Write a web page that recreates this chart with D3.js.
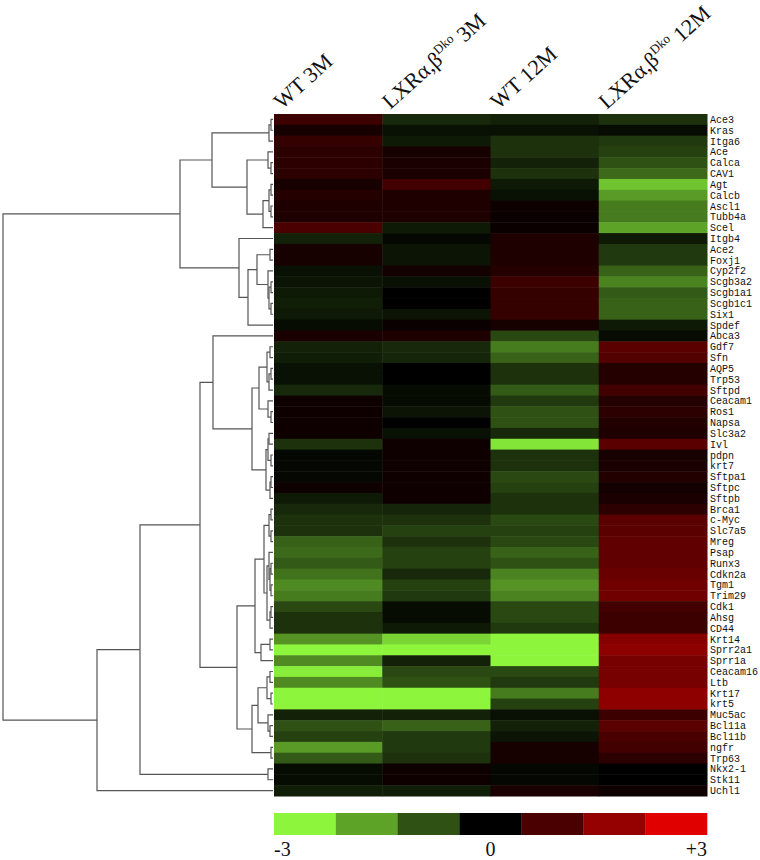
<!DOCTYPE html>
<html>
<head>
<meta charset="utf-8">
<script src="https://cdn.jsdelivr.net/npm/d3@7"></script>
<style>
  html, body { margin: 0; padding: 0; background: #fff; }
  svg { display: block; }
</style>
</head>
<body>
<svg id="chart" width="760" height="860"></svg>
<script>
// column groups
const groups = ["WT 3M", "LXR 3M", "WT 12M", "LXR 12M"];

// genes, top to bottom
const genes = ["Ace3","Kras","Itga6","Ace","Calca","CAV1","Agt","Calcb","Ascl1","Tubb4a",
  "Scel","Itgb4","Ace2","Foxj1","Cyp2f2","Scgb3a2","Scgb1a1","Scgb1c1","Six1","Spdef",
  "Abca3","Gdf7","Sfn","AQP5","Trp53","Sftpd","Ceacam1","Ros1","Napsa","Slc3a2",
  "Ivl","pdpn","krt7","Sftpa1","Sftpc","Sftpb","Brca1","c-Myc","Slc7a5","Mreg",
  "Psap","Runx3","Cdkn2a","Tgm1","Trim29","Cdk1","Ahsg","CD44","Krt14","Sprr2a1",
  "Sprr1a","Ceacam16","Ltb","Krt17","krt5","Muc5ac","Bcl11a","Bcl11b","ngfr","Trp63",
  "Nkx2-1","Stk11","Uchl1"];

// log ratio per column, same order as genes
const wt3m = [0.8,0.3,0.7,0.6,0.6,0.6,0.3,0.5,0.4,0.4,
  1.0,-0.4,0.3,0.3,-0.2,-0.25,-0.3,-0.35,-0.3,-0.15,
  0.35,-0.4,-0.35,-0.2,-0.2,-0.5,0.2,0.2,0.2,0.2,
  -0.6,-0.1,-0.1,-0.1,0.2,-0.3,-0.5,-0.6,-0.6,-1.2,
  -1.3,-1.1,-1.4,-1.7,-1.5,-0.9,-0.6,-0.6,-1.8,-3.0,
  -1.7,-2.9,-1.7,-3.0,-3.0,-0.4,-1.0,-0.8,-1.9,-1.1,
  -0.15,-0.15,-0.35];
const lxr3m = [-0.5,-0.2,-0.3,0.3,0.35,0.35,0.9,0.4,0.4,0.4,
  -0.3,-0.1,-0.25,-0.25,0.25,-0.2,0.0,0.0,-0.25,0.15,
  0.4,-0.5,-0.45,0.0,0.0,-0.15,-0.15,-0.25,0.0,-0.2,
  0.2,0.2,0.2,0.2,0.2,0.2,-0.45,-0.6,-0.8,-0.6,
  -0.8,-0.8,-0.5,-0.8,-0.7,-0.15,-0.15,-0.3,-2.6,-3.0,
  -0.4,-0.9,-1.0,-3.0,-3.0,-0.4,-1.2,-0.7,-0.7,-0.6,
  0.2,0.2,-0.35];
const wt12m = [-0.4,-0.2,-0.6,-0.6,-0.4,-0.6,-0.3,-0.2,0.2,0.15,
  0.15,0.4,0.4,0.4,0.5,0.8,0.7,0.7,0.7,0.3,
  -0.9,-1.5,-1.2,-0.6,-0.6,-1.1,-0.7,-1.0,-1.0,-0.5,
  -2.8,-0.6,-0.6,-0.9,-0.8,-0.6,-0.6,-0.9,-0.8,-0.9,
  -1.2,-1.0,-1.6,-1.8,-1.6,-0.9,-0.9,-0.7,-3.0,-3.0,
  -3.0,-0.9,-0.7,-1.5,-0.8,-0.2,-0.4,-0.25,0.3,0.3,
  -0.1,-0.1,0.35];
const lxr12m = [-0.6,-0.15,-0.7,-0.8,-1.0,-1.3,-2.4,-1.9,-1.5,-1.5,
  -2.0,-0.3,-0.7,-0.7,-1.2,-1.6,-1.1,-1.2,-1.2,-0.3,
  -0.15,1.2,1.1,0.5,0.5,0.9,0.5,0.6,0.45,0.4,
  1.2,0.3,0.35,0.45,0.25,0.35,0.6,1.2,1.2,1.3,
  1.3,1.3,1.4,1.5,1.5,0.9,0.8,0.8,1.8,1.9,
  1.6,1.6,1.6,1.9,1.9,0.8,1.2,1.0,0.9,0.6,
  0.0,0.0,0.2];

// row clustering: [left, right, height]; strings are genes, numbers are earlier merges
const merges = [
  ["Ace3","Kras",2], [0,"Itga6",4], ["Calca","CAV1",2], ["Ace",2,5],
  ["Agt","Calcb",2], ["Ascl1","Tubb4a",2], [4,5,4], [6,"Scel",10],
  [3,7,26], [1,8,61], ["Ace2","Foxj1",3], ["Scgb3a2","Scgb1a1",2],
  ["Scgb1c1","Six1",2], [11,12,4], ["Cyp2f2",13,5], [10,14,16],
  [15,"Spdef",25], ["Itgb4",16,34], [9,17,93],
  ["Gdf7","Sfn",3], ["AQP5","Trp53",2], [20,"Sftpd",4], [19,21,6],
  ["Ros1","Napsa",2], ["Ceacam1",23,5], [22,24,14],
  ["Slc3a2","Ivl",4], ["pdpn","krt7",2], [26,27,5],
  ["Sftpa1","Sftpc",2], [29,"Sftpb",3], [28,30,7],
  [25,31,21], ["Abca3",32,60],
  ["Brca1","c-Myc",2], ["Slc7a5","Mreg",2], [34,35,4],
  ["Runx3","Cdkn2a",2], ["Tgm1","Trim29",2], [37,38,3], ["Psap",39,4],
  ["Cdk1","Ahsg",2], [41,"CD44",3], [40,42,6], [36,43,9],
  ["Krt14","Sprr2a1",3], [45,"Sprr1a",12], [44,46,18],
  ["Ceacam16","Ltb",3], ["Krt17","krt5",2], [48,49,6], ["Bcl11a","Bcl11b",3],
  ["Muc5ac",51,5], [50,52,15], ["ngfr","Trp63",2], [53,54,21],
  [47,55,36], [33,56,73], ["Nkx2-1","Stk11",5], [57,58,133],
  [59,"Uchl1",176], [18,60,270]
];

const legendValues = [-3, -2, -1, 0, 1, 2, 3];
const legendLabels = ["-3", "0", "+3"];

const svg = d3.select("#chart");

const mapLeft = 274, mapRight = 707, mapTop = 114, mapBottom = 796;

const x = d3.scaleBand().domain(groups).range([mapLeft, mapRight]);
const y = d3.scaleBand().domain(genes).range([mapTop, mapBottom]);
const color = d3.scaleLinear().domain([-3, 0, 3])
  .range(["#8cf53c", "#000000", "#e00000"]).clamp(true);

const columns = [wt3m, lxr3m, wt12m, lxr12m];
const cells = [];
groups.forEach((g, j) => {
  genes.forEach((gene, i) => cells.push({ group: g, gene: gene, value: columns[j][i] }));
});

// heatmap cells
svg.append("g")
  .selectAll("rect")
  .data(cells)
  .join("rect")
  .attr("x", d => x(d.group))
  .attr("y", d => y(d.gene))
  .attr("width", x.bandwidth() + 0.5)
  .attr("height", y.bandwidth() + 0.5)
  .attr("fill", d => color(d.value));

// gene labels
svg.append("g")
  .selectAll("text")
  .data(genes)
  .join("text")
  .attr("x", mapRight + 3)
  .attr("y", d => y(d) + y.bandwidth() / 2)
  .attr("dy", "0.35em")
  .attr("font-family", "'Liberation Mono', 'Courier New', monospace")
  .attr("font-size", 10)
  .attr("fill", "#111")
  .text(d => d);

// column headers (rotated)
const header = svg.append("g")
  .selectAll("text")
  .data(groups)
  .join("text")
  .attr("transform", d => `translate(${x(d) + 8},110) rotate(-42)`)
  .attr("font-family", "'Liberation Serif', 'Times New Roman', serif")
  .attr("font-size", 22)
  .attr("fill", "#111");
header.each(function(d) {
  const t = d3.select(this);
  if (d.startsWith("LXR")) {
    t.append("tspan").text("LXR\u03b1,\u03b2");
    t.append("tspan").attr("font-size", 13).attr("dy", -9).text("Dko");
    t.append("tspan").attr("dy", 9).text(" " + d.split(" ")[1]);
  } else {
    t.text(d);
  }
});

// dendrogram
const nodes = merges.map(() => ({}));
function toNode(ref) {
  return typeof ref === "string" ? { name: ref, h: 0 } : nodes[ref];
}
merges.forEach((m, k) => {
  nodes[k].h = m[2];
  nodes[k].children = [toNode(m[0]), toNode(m[1])];
});
const root = d3.hierarchy(nodes[nodes.length - 1]);
const hx = d3.scaleLinear().domain([0, 270]).range([mapLeft - 1, 3]);

root.eachAfter(n => {
  if (!n.children) n.yPos = y(n.data.name) + y.bandwidth() / 2;
  else n.yPos = d3.mean(n.children, c => c.yPos);
});

svg.append("g")
  .attr("fill", "none")
  .attr("stroke", "#555")
  .attr("stroke-width", 1.2)
  .selectAll("path")
  .data(root.links())
  .join("path")
  .attr("d", l => `M${hx(l.source.data.h)},${l.source.yPos}V${l.target.yPos}H${hx(l.target.data.h)}`);

// legend
const lx = d3.scaleBand().domain(legendValues).range([mapLeft, mapRight]);
svg.append("g")
  .selectAll("rect")
  .data(legendValues)
  .join("rect")
  .attr("x", d => lx(d))
  .attr("y", 813)
  .attr("width", lx.bandwidth() + 0.3)
  .attr("height", 22)
  .attr("fill", d => color(d));

svg.append("g")
  .selectAll("text")
  .data(legendLabels)
  .join("text")
  .attr("x", (d, i) => i === 0 ? mapLeft : i === 1 ? lx(0) + lx.bandwidth() / 2 : mapRight)
  .attr("y", 856)
  .attr("text-anchor", (d, i) => ["start", "middle", "end"][i])
  .attr("font-family", "'Liberation Serif', 'Times New Roman', serif")
  .attr("font-size", 20)
  .attr("fill", "#111")
  .text(d => d);
</script>
</body>
</html>
